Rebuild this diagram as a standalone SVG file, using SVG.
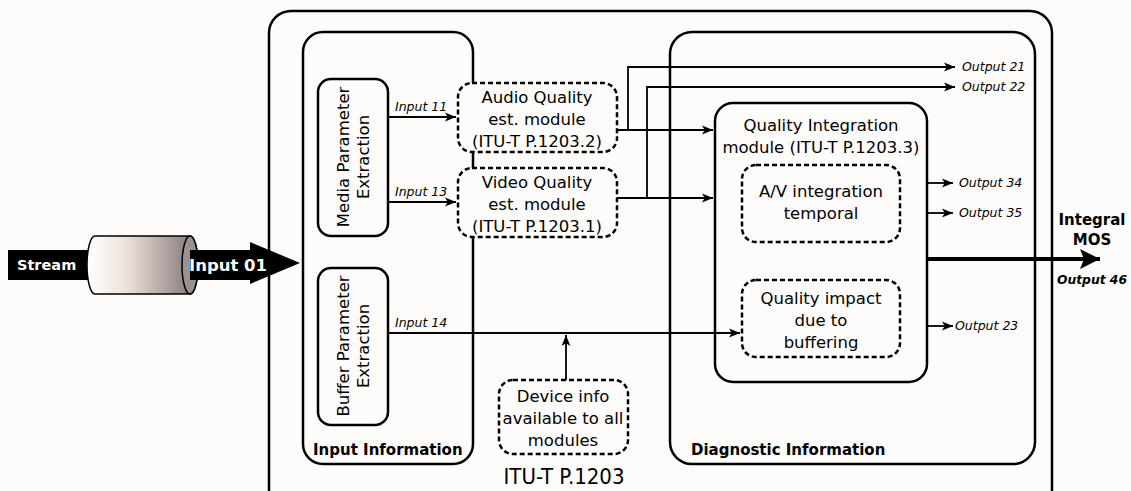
<svg xmlns="http://www.w3.org/2000/svg" width="1131" height="491" viewBox="0 0 1131 491">
  <defs>
    <marker id="arr" viewBox="0 0 10 10" refX="10" refY="5" markerWidth="11" markerHeight="11" markerUnits="userSpaceOnUse" orient="auto">
      <path d="M0,1 L10,5 L0,9 L2.5,5 Z" fill="#000"/>
    </marker>
    <marker id="arrBig" viewBox="0 0 10 10" refX="10" refY="5" markerWidth="5" markerHeight="5" orient="auto">
      <path d="M0,0 L10,5 L0,10 L2,5 Z" fill="#000"/>
    </marker>
    <linearGradient id="pipe" x1="0" y1="0" x2="1" y2="0">
      <stop offset="0" stop-color="#ffffff"/>
      <stop offset="0.35" stop-color="#efe2dc"/>
      <stop offset="1" stop-color="#7a7270"/>
    </linearGradient>
  </defs>
  <style>
    text { font-family: "DejaVu Sans", Verdana, sans-serif; fill: #000; }
    .box { fill: #fdfcfa; stroke: #000; stroke-width: 2.5; }
    .dash { fill: #fdfcfa; stroke: #000; stroke-width: 2.5; stroke-dasharray: 5 3; }
    .wire { fill: none; stroke: #000; stroke-width: 1.8; }
    .lbl { font-size: 16.5px; text-anchor: middle; }
    .io { font-size: 12.5px; font-style: italic; }
    .bold { font-size: 15px; font-weight: bold; }
    .title { font-family: "DejaVu Sans Condensed", "DejaVu Sans", sans-serif; font-size: 22px; text-anchor: middle; }
  </style>
  <rect width="1131" height="491" fill="#fdfcfa"/>

  <!-- outer ITU-T P.1203 frame -->
  <g id="frame">
    <rect class="box" x="269" y="11" width="783" height="500" rx="22"/>
    <text x="564" y="484" class="title">ITU-T P.1203</text>
  </g>

  <!-- stream input pipe -->
  <g id="stream">
    <path d="M8,250 H250 V242 L300,263 L250,284 V280 H8 Z" fill="#000"/>
    <path d="M95,236 H190 A8,29 0 0 1 190,294 H95 A8,29 0 0 1 95,236 Z" fill="url(#pipe)" stroke="#000" stroke-width="1.5"/>
    <ellipse cx="190" cy="265" rx="8" ry="29" fill="#9a9290" stroke="#000" stroke-width="1.5"/>
    <path d="M190,250 H250 V280 H190 Z" fill="#000"/>
    <text x="17" y="270" class="bold" style="font-size:14.5px;fill:#fff">Stream</text>
    <text x="189" y="271" class="bold" style="font-size:16.5px;fill:#fff">Input 01</text>
  </g>

  <!-- input information group -->
  <g id="input-info">
    <rect class="box" x="303" y="32" width="170" height="432" rx="20"/>
    <text x="313" y="455" class="bold">Input Information</text>
  </g>

  <g id="media-param">
    <rect class="box" x="318" y="79" width="70" height="157" rx="13"/>
    <text class="lbl" transform="translate(353,157) rotate(-90)"><tspan x="0" y="-4">Media Parameter</tspan><tspan x="0" y="16">Extraction</tspan></text>
  </g>

  <g id="buffer-param">
    <rect class="box" x="318" y="268" width="70" height="157" rx="13"/>
    <text class="lbl" transform="translate(353,346) rotate(-90)"><tspan x="0" y="-4">Buffer Parameter</tspan><tspan x="0" y="16">Extraction</tspan></text>
  </g>

  <!-- diagnostic information group -->
  <g id="diag-info">
    <rect class="box" x="670" y="32" width="365" height="432" rx="22"/>
    <text x="691" y="455" class="bold">Diagnostic Information</text>
  </g>

  <g id="audio-module">
    <rect class="dash" x="458" y="83" width="159" height="69" rx="14"/>
    <text class="lbl" x="537" y="103">Audio Quality</text>
    <text class="lbl" x="537" y="125">est. module</text>
    <text class="lbl" x="537" y="147">(ITU-T P.1203.2)</text>
  </g>

  <g id="video-module">
    <rect class="dash" x="458" y="168" width="159" height="69" rx="14"/>
    <text class="lbl" x="537" y="188">Video Quality</text>
    <text class="lbl" x="537" y="210">est. module</text>
    <text class="lbl" x="537" y="232">(ITU-T P.1203.1)</text>
  </g>

  <g id="device-info">
    <rect class="dash" x="499" y="380" width="129" height="74" rx="14"/>
    <text class="lbl" x="563" y="402">Device info</text>
    <text class="lbl" x="563" y="424">available to all</text>
    <text class="lbl" x="563" y="446">modules</text>
  </g>

  <g id="integration-module">
    <rect class="box" x="715" y="103" width="212" height="279" rx="18"/>
    <text class="lbl" x="821" y="131">Quality Integration</text>
    <text class="lbl" x="821" y="153">module (ITU-T P.1203.3)</text>
  </g>

  <g id="av-integration">
    <rect class="dash" x="742" y="165" width="158" height="77" rx="14"/>
    <text class="lbl" x="821" y="197">A/V integration</text>
    <text class="lbl" x="821" y="219">temporal</text>
  </g>

  <g id="buffering-impact">
    <rect class="dash" x="742" y="280" width="158" height="77" rx="14"/>
    <text class="lbl" x="821" y="304">Quality impact</text>
    <text class="lbl" x="821" y="326">due to</text>
    <text class="lbl" x="821" y="348">buffering</text>
  </g>

  <!-- connectors -->
  <g id="connectors">
    <path class="wire" d="M388,117 H456" marker-end="url(#arr)"/>
    <path class="wire" d="M388,202 H456" marker-end="url(#arr)"/>
    <path class="wire" d="M617,130 H713" marker-end="url(#arr)"/>
    <path class="wire" d="M617,198 H713" marker-end="url(#arr)"/>
    <path class="wire" d="M628,130 V67 H955" marker-end="url(#arr)"/>
    <path class="wire" d="M647,198 V87 H955" marker-end="url(#arr)"/>
    <path class="wire" d="M388,333 H740" marker-end="url(#arr)"/>
    <path class="wire" d="M566,380 V335" marker-end="url(#arr)"/>
    <path class="wire" d="M927,183 H953" marker-end="url(#arr)"/>
    <path class="wire" d="M927,213 H953" marker-end="url(#arr)"/>
    <path class="wire" d="M927,326 H953" marker-end="url(#arr)"/>
    <path d="M927,259 H1100" fill="none" stroke="#000" stroke-width="4" marker-end="url(#arrBig)"/>
  </g>

  <!-- port labels -->
  <g id="labels">
    <text class="io" x="395" y="111">Input 11</text>
    <text class="io" x="395" y="196">Input 13</text>
    <text class="io" x="395" y="327">Input 14</text>
    <text class="io" x="962" y="71">Output 21</text>
    <text class="io" x="962" y="91">Output 22</text>
    <text class="io" x="959" y="187">Output 34</text>
    <text class="io" x="959" y="217">Output 35</text>
    <text class="io" x="955" y="330">Output 23</text>
    <text x="1092" y="225" class="bold" text-anchor="middle">Integral</text>
    <text x="1092" y="245" class="bold" text-anchor="middle">MOS</text>
    <text x="1092" y="284" class="bold" text-anchor="middle" style="font-size:12.3px;font-style:italic">Output 46</text>
  </g>
</svg>
